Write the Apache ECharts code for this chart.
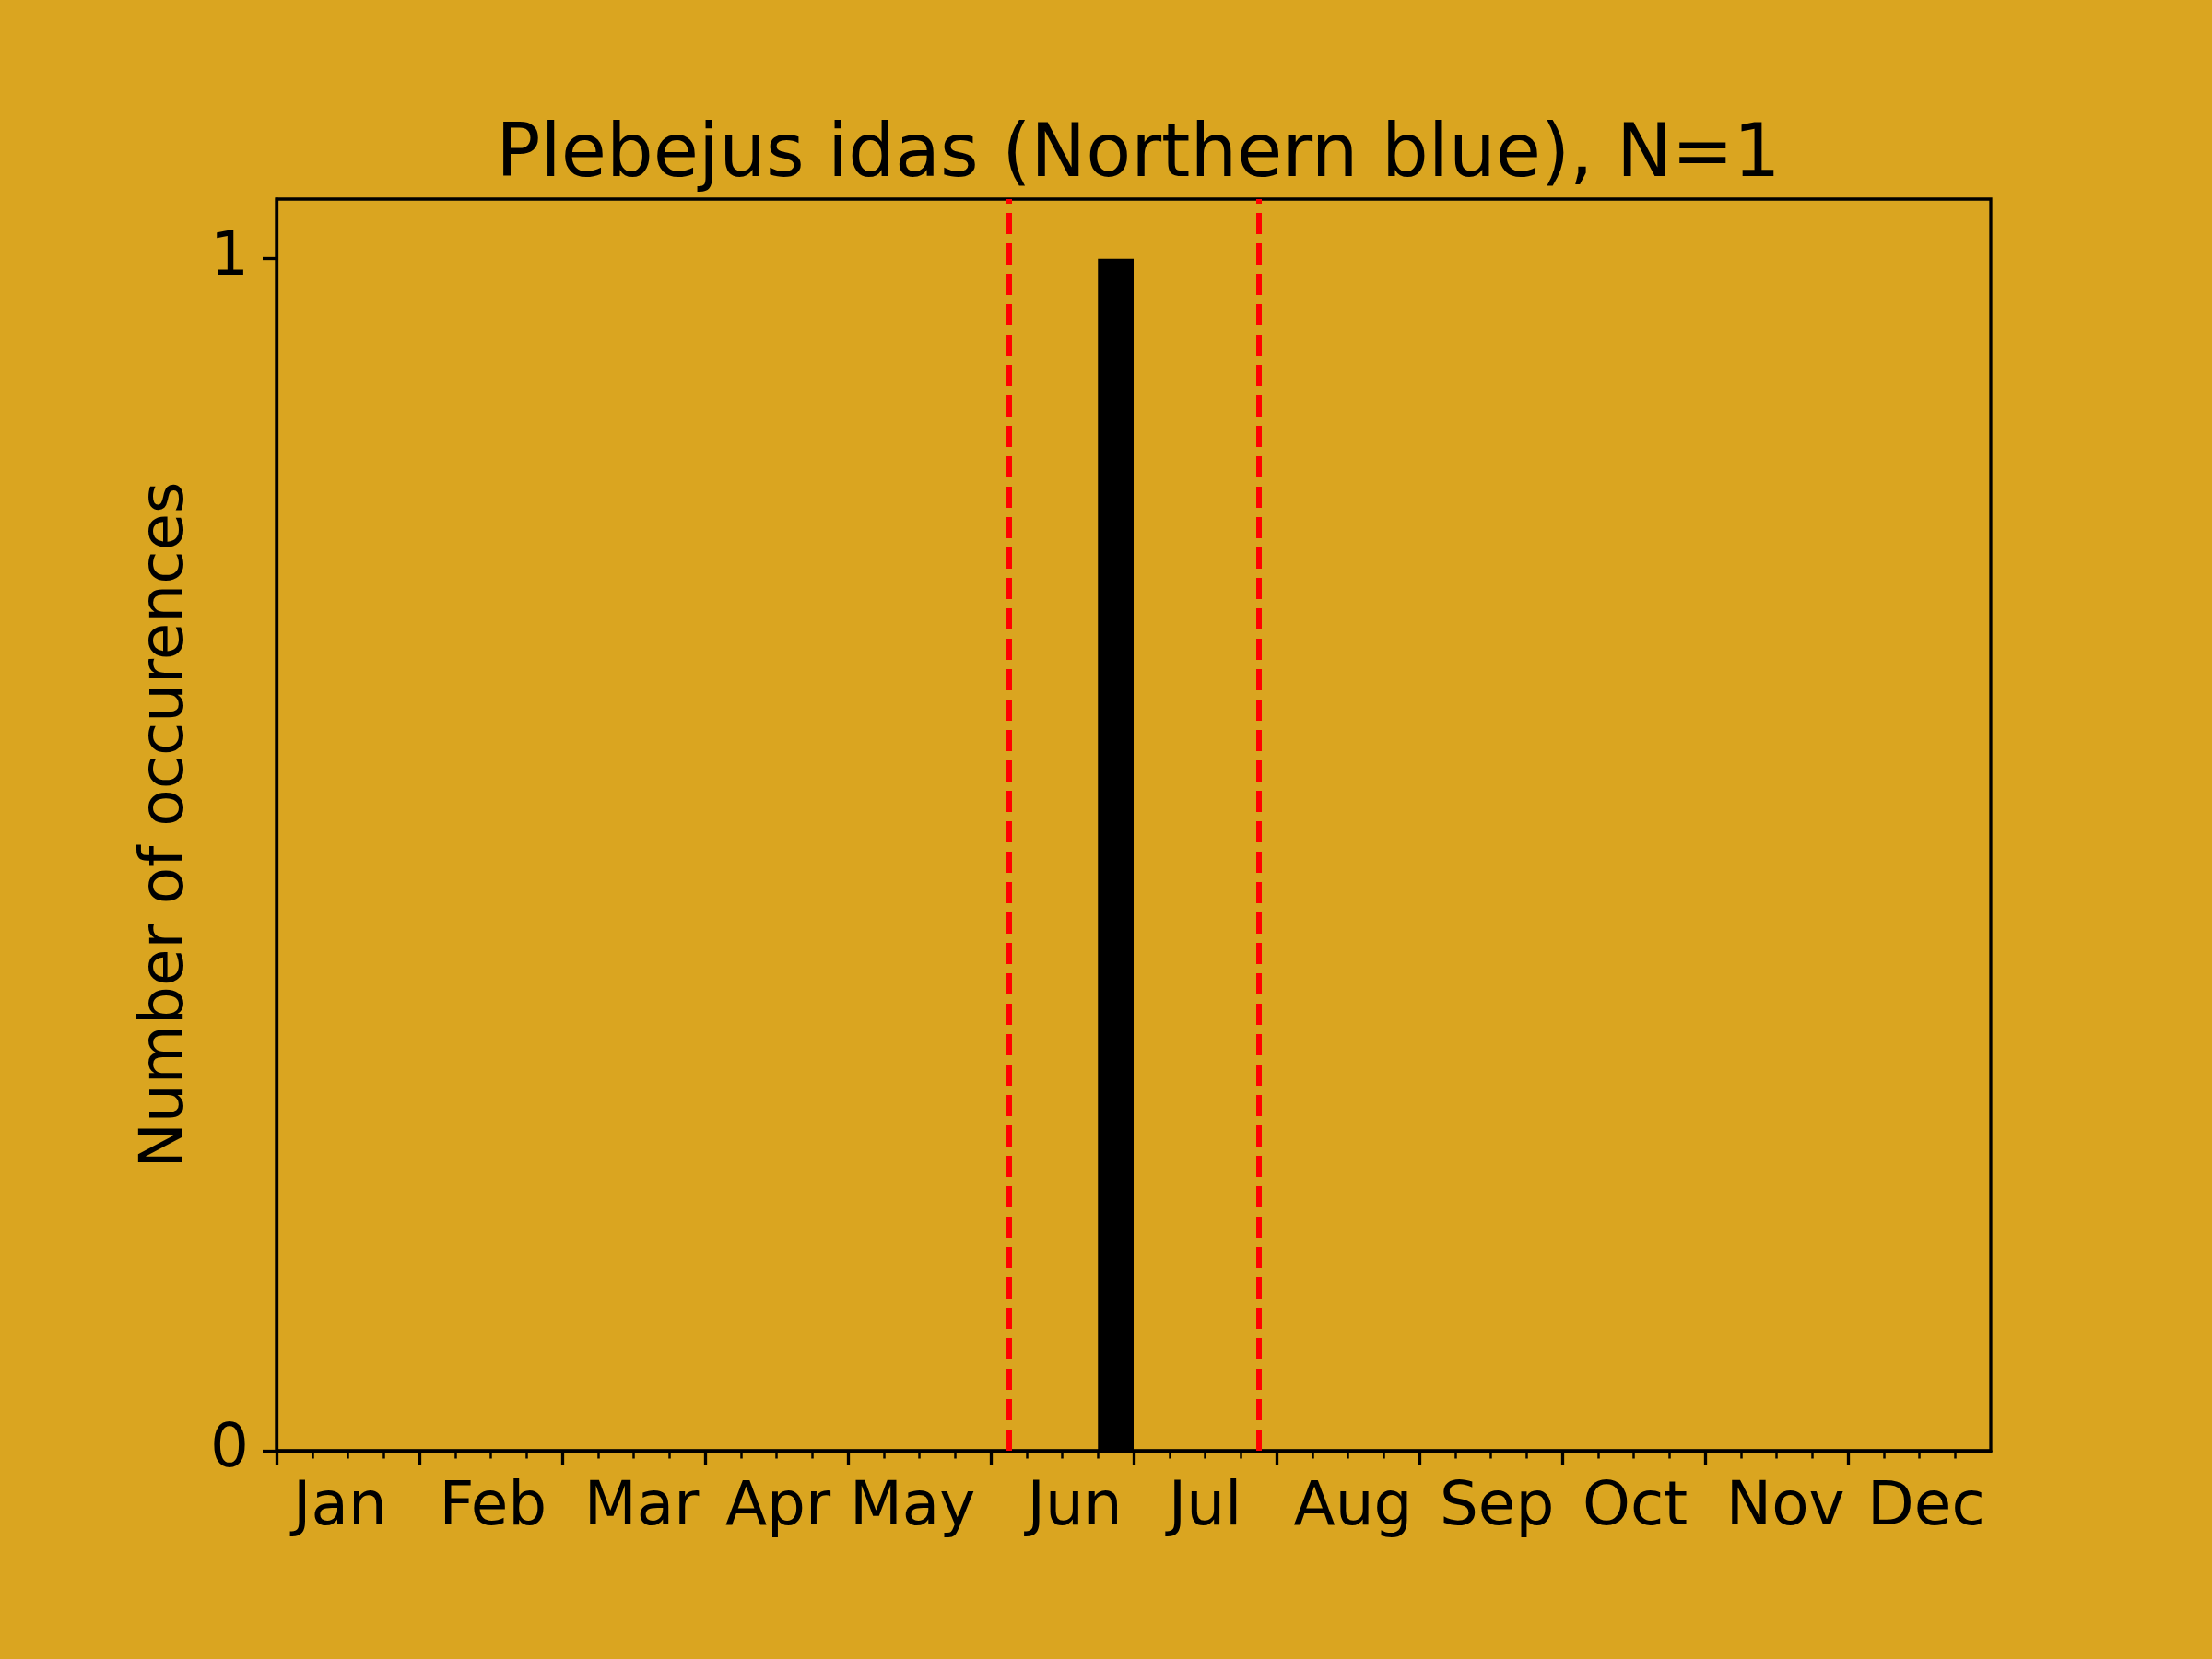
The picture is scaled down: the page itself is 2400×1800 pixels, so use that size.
<!DOCTYPE html>
<html>
<head>
<meta charset="utf-8">
<script src="https://cdn.jsdelivr.net/npm/echarts@6/dist/echarts.min.js"></script>
<style>
html,body{margin:0;padding:0;background:#DAA520;}
#chart{width:2400px;height:1800px;}
</style>
</head>
<body>
<div id="chart"></div>
<script>
// Weekly bins (48 per year, 4 per month)
const weekCounts = [0,0,0,0, 0,0,0,0, 0,0,0,0, 0,0,0,0, 0,0,0,0, 0,0,0,1, 0,0,0,0, 0,0,0,0, 0,0,0,0, 0,0,0,0, 0,0,0,0];
const monthNames = ['Jan','Feb','Mar','Apr','May','Jun','Jul','Aug','Sep','Oct','Nov','Dec'];
const monthLabelPos = [1.78, 6.06, 10.22, 14.04, 17.81, 22.35, 26.0, 30.14, 34.17, 38.04, 42.25, 46.19];
const majorTicks = [0,4,8,12,16,20,24,28,32,36,40,44];
const yTicks = [0, 1];
const periodLines = [20.5, 27.5];
const titleText = 'Plebejus idas (Northern blue), N=1';
const yName = 'Number of occurences';

const chart = echarts.init(document.getElementById('chart'), null, {renderer: 'canvas'});
const FONT = 'DejaVu Sans';
const binData = weekCounts.map((v, i) => [i, i + 1, v]);

chart.setOption({
  backgroundColor: '#DAA520',
  animation: false,
  title: {
    text: titleText,
    left: 1230,
    top: 125,
    textAlign: 'center',
    textStyle: {fontFamily: FONT, fontSize: 80, fontWeight: 'normal', color: '#000'}
  },
  grid: {
    left: 300, top: 216, width: 1860, height: 1358,
    show: true, borderColor: '#000', borderWidth: 3.3, backgroundColor: 'transparent'
  },
  xAxis: {
    type: 'value', min: 0, max: 48, interval: 4,
    splitLine: {show: false},
    axisLine: {show: true, onZero: false, lineStyle: {color: '#000', width: 3.3}},
    axisTick: {show: true, length: 15, customValues: majorTicks, lineStyle: {color: '#000', width: 3.3}},
    minorTick: {show: true, splitNumber: 4, length: 8.5, lineStyle: {color: '#000', width: 2.5}},
    axisLabel: {
      show: true, customValues: monthLabelPos, margin: 30,
      fontFamily: FONT, fontSize: 66, color: '#000',
      formatter: function (v) {
        let best = 0;
        for (let i = 0; i < monthLabelPos.length; i++) {
          if (Math.abs(monthLabelPos[i] - v) < Math.abs(monthLabelPos[best] - v)) best = i;
        }
        return monthNames[best];
      }
    }
  },
  yAxis: {
    type: 'value', min: 0, max: 1.05,
    splitLine: {show: false},
    name: yName, nameLocation: 'middle', nameRotate: 90, nameGap: 86,
    nameTextStyle: {fontFamily: FONT, fontSize: 66, color: '#000'},
    axisLine: {show: true, lineStyle: {color: '#000', width: 3.3}},
    axisTick: {show: true, length: 15, customValues: yTicks, lineStyle: {color: '#000', width: 3.3}},
    axisLabel: {show: true, customValues: yTicks, margin: 30, fontFamily: FONT, fontSize: 66, color: '#000'}
  },
  series: [{
    type: 'custom',
    data: binData,
    encode: {x: [0, 1], y: 2},
    renderItem: function (params, api) {
      const v = api.value(2);
      if (!v) return null;
      const p0 = api.coord([api.value(0), 0]);
      const p1 = api.coord([api.value(1), v]);
      return {
        type: 'rect',
        shape: {x: p0[0], y: p1[1], width: p1[0] - p0[0], height: p0[1] - p1[1]},
        style: {fill: '#000'}
      };
    },
    markLine: {
      silent: true, symbol: 'none', label: {show: false},
      lineStyle: {color: '#FF0000', width: 6, type: [23, 10]},
      data: periodLines.map(x => ({xAxis: x}))
    },
    z: 2
  }]
});
</script>
</body>
</html>
